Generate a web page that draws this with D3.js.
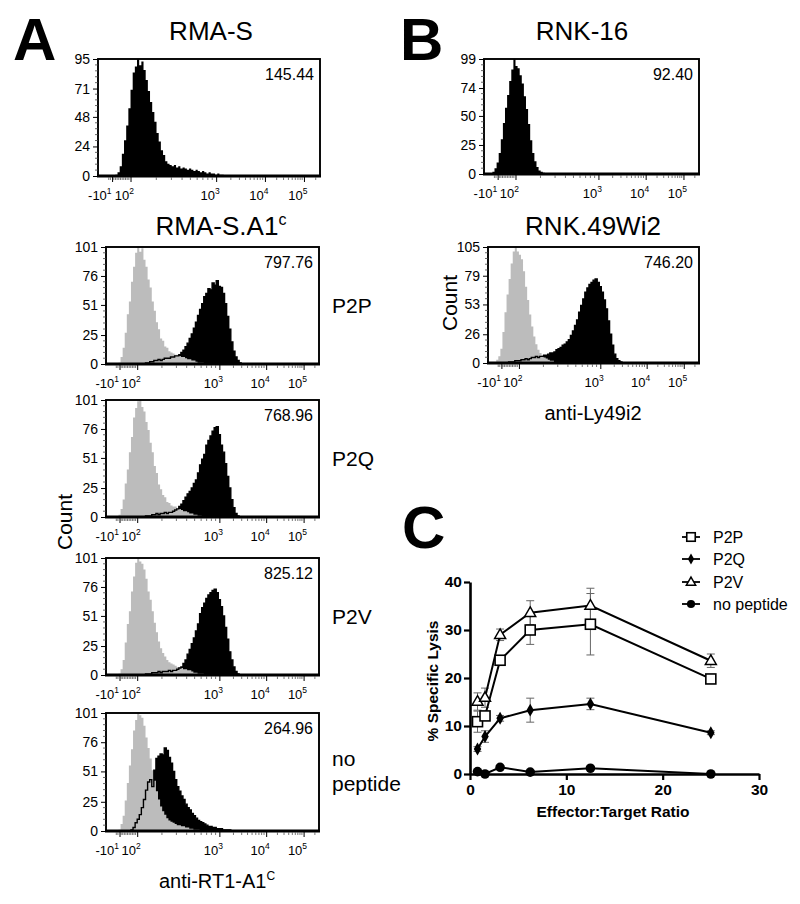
<!DOCTYPE html>
<html><head><meta charset="utf-8">
<script src="https://cdn.jsdelivr.net/npm/d3@7"></script>
<style>
body{margin:0;background:#fff}
svg{display:block}
text{font-family:"Liberation Sans",Arial,Helvetica,sans-serif}
</style></head>
<body><svg id="fig" width="800" height="904"></svg>
<script>
// ---------------- DATA ----------------
// Flow histograms: counts per 10-channel bin (1024-channel display), starting at given channel
const binWidth = 10;
const xTickChannels = [65, 150, 545, 770, 950];
const xTickLabels = [["-10","1"],["10","2"],["10","3"],["10","4"],["10","5"]];

const rmasStart = 70;
const rmasCounts = [0,1,3,8,18,29,41,55,70,84,89,95,90,93,86,78,69,60,52,44,35,28,21,17,12,10,9,8,9,7,8,6,7,6,5,6,5,4,5,4,3,4,3,2,3,2,2,1,2,1,1,0];

const grayStart = 50;
const p2pGray = [0,1,6,14,27,43,54,71,84,96,101,97,100,90,84,73,66,54,46,36,30,22,20,15,14,11,10,9,8,8,7,6,6,5,4,4,3,3,2,1,1,1,0];
const p2qGray = [0,2,7,15,29,41,56,69,86,94,100,101,95,91,82,75,64,56,44,38,28,24,19,17,13,12,10,9,9,7,7,6,5,5,4,3,3,2,2,1,1,0,0];
const p2vGray = [0,1,5,13,28,44,55,72,85,97,101,98,96,91,83,72,65,55,45,37,29,23,19,16,13,11,10,9,8,7,7,6,5,5,4,4,3,2,2,1,1,1,0];
const noPepGray = [0,1,6,13,26,41,56,70,86,95,101,99,97,90,80,71,62,52,43,34,27,21,17,14,11,9,8,7,6,5,5,4,4,3,3,2,2,1,1,1,0];

const peptideStart = 180;
const p2pBlack = [0,1,1,2,2,3,3,4,3,4,5,5,5,6,6,7,7,8,10,12,15,18,22,26,31,36,42,47,52,58,61,65,64,70,68,72,67,66,61,52,41,30,19,11,6,3,1,0];
const p2qBlack = [0,1,1,1,2,2,3,2,3,3,4,3,4,4,5,6,7,9,11,14,17,20,22,25,29,32,38,45,50,54,62,66,70,74,77,78,71,62,56,46,35,25,15,8,3,1,0];
const p2vBlack = [0,1,1,1,2,2,2,3,2,3,3,3,4,3,4,4,5,6,7,10,13,18,22,27,32,38,44,53,58,62,66,69,71,73,74,71,65,59,51,41,31,20,13,7,3,1,0];
const noPepStart = 110;
const noPepBlack = [0,1,3,7,10,14,20,27,35,42,44,38,52,62,64,66,65,71,69,63,58,51,44,38,34,30,27,23,20,18,15,13,11,9,8,7,6,5,4,4,3,3,2,2,2,1,1,1,1,0];

const rnk16Start = 30;
const rnk16Counts = [0,2,5,10,18,30,44,57,68,80,90,99,93,91,85,78,67,56,43,29,18,11,6,3,2,1,0];
const rnkWiGrayStart = 30;
const rnkWiGray = [1,3,6,13,28,46,62,76,90,101,105,101,98,94,83,69,57,44,33,24,17,12,9,7,5,4,3,2,2,1,1,0];
const rnkWiBlackStart = 90;
const rnkWiBlack = [0,1,1,1,2,2,2,3,3,4,3,4,5,5,6,5,6,6,7,7,8,9,9,10,12,13,14,16,17,19,21,25,29,34,39,46,52,58,64,68,71,73,75,76,73,69,64,57,49,38,26,16,8,4,2,1,0];

const rmasYTicks = [0,24,48,71,95];
const a1cYTicks = [0,25,51,76,101];
const rnk16YTicks = [0,25,50,74,99];
const rnkWiYTicks = [0,26,53,79,105];

// Lysis assay
const etRatio = [0.78, 1.56, 3.125, 6.25, 12.5, 25];
const p2pLysis = [10.9, 12.1, 23.7, 30.0, 31.2, 19.8];
const p2pErr   = [2.2, 0.8, 0.8, 3.0, 6.4, 0.5];
const p2qLysis = [5.2, 7.8, 11.6, 13.3, 14.6, 8.6];
const p2qErr   = [0.5, 1.2, 0.6, 2.5, 1.2, 0.4];
const p2vLysis = [15.1, 15.9, 29.0, 33.6, 35.1, 23.6];
const p2vErr   = [1.8, 2.0, 1.2, 2.5, 3.6, 1.4];
const noPepLysis = [0.5, 0.0, 1.4, 0.4, 1.2, 0.0];
const noPepErr   = [0.2, 0.2, 0.3, 0.3, 0.3, 0.2];
const lysisXTicks = [0, 10, 20, 30];
const lysisYTicks = [0, 10, 20, 30, 40];

// ---------------- DRAW ----------------
const svg = d3.select("#fig");
const GRAY = "#bcbcbc";

function pts(start, counts){ return counts.map((c,i)=>({ch:start+i*binWidth, c})); }

function drawHist(p){
  const x = d3.scaleLinear().domain([0,1024]).range([p.x0,p.x1]);
  const y = d3.scaleLinear().domain([0,p.yTicks[p.yTicks.length-1]]).range([p.y1,p.y0]);
  const g = svg.append("g");
  const area = d3.area().curve(d3.curveStepAfter).x(d=>x(d.ch)).y0(y(0)).y1(d=>y(d.c));
  const line = d3.line().curve(d3.curveStepAfter).x(d=>x(d.ch)).y(d=>y(d.c));
  const blk = pts(p.blackStart, p.black);
  g.append("path").attr("d", area(blk)).attr("fill","#000");
  if (p.gray){
    g.append("path").attr("d", area(pts(p.grayStart,p.gray))).attr("fill",GRAY);
    g.append("path").attr("d", line(blk)).attr("fill","none").attr("stroke","#000").attr("stroke-width",1.4);
  }
  // frame
  g.append("rect").attr("x",p.x0).attr("y",p.y0).attr("width",p.x1-p.x0).attr("height",p.y1-p.y0)
    .attr("fill","none").attr("stroke","#000").attr("stroke-width",1.9);
  g.append("line").attr("x1",p.x0-1).attr("x2",p.x1+1).attr("y1",p.y1).attr("y2",p.y1)
    .attr("stroke","#000").attr("stroke-width",2.8);
  // y axis
  const ya = g.append("g").attr("transform",`translate(${p.x0},0)`)
    .call(d3.axisLeft(y).tickValues(p.yTicks).tickSize(5).tickPadding(3).tickFormat(d3.format("d")));
  ya.select(".domain").remove();
  ya.selectAll(".tick line").attr("stroke","#000").attr("stroke-width",1);
  ya.selectAll(".tick text").attr("font-size",14).attr("fill","#000").attr("font-family","Liberation Sans, Arial, sans-serif");
  const yMinor = [];
  for (let i=0;i<p.yTicks.length-1;i++){
    const a=p.yTicks[i], b=p.yTicks[i+1];
    for (let k=1;k<5;k++) yMinor.push(a+(b-a)*k/5);
  }
  g.selectAll(null).data(yMinor).enter().append("line")
    .attr("x1",p.x0-3).attr("x2",p.x0).attr("y1",d=>y(d)).attr("y2",d=>y(d))
    .attr("stroke","#444").attr("stroke-width",0.8);
  // x axis
  const xa = g.append("g").attr("transform",`translate(0,${p.y1+1})`)
    .call(d3.axisBottom(x).tickValues(xTickChannels).tickSize(5).tickFormat(""));
  xa.select(".domain").remove();
  xa.selectAll(".tick line").attr("stroke","#000").attr("stroke-width",1);
  const xMinor = [];
  [-30,-20,0,10,20,30,40,50,60,70,80,90].forEach(v=>xMinor.push(xTickChannels[0]+(v+10)/110*(xTickChannels[1]-xTickChannels[0])));
  for (let dIdx=1; dIdx<4; dIdx++){
    const a=xTickChannels[dIdx], b=xTickChannels[dIdx+1];
    for (let k=2;k<10;k++) xMinor.push(a+(b-a)*Math.log10(k));
  }
  xMinor.push(xTickChannels[4]+(xTickChannels[4]-xTickChannels[3])*Math.log10(2));
  g.selectAll(null).data(xMinor).enter().append("line")
    .attr("x1",d=>x(d)).attr("x2",d=>x(d)).attr("y1",p.y1+1).attr("y2",p.y1+4)
    .attr("stroke","#555").attr("stroke-width",0.8);
  xTickChannels.forEach((c,i)=>{
    const t = g.append("text").attr("x",x(c)+(i===0?-0.5:3.5)).attr("y",p.y1+24).attr("text-anchor","end")
      .attr("font-size",13);
    t.append("tspan").text(xTickLabels[i][0]);
    t.append("tspan").attr("dy",-6).attr("font-size",8.5).text(xTickLabels[i][1]);
  });
  // MFI value
  g.append("text").attr("x",p.x1-6).attr("y",p.y0+21).attr("text-anchor","end")
    .attr("font-size",16).text(p.mfi);
  if (p.side){
    p.side.forEach((s,i)=>{
      g.append("text").attr("x",p.x1+13).attr("y",(p.y0+p.y1)/2+ (p.side.length>1 ? (i*25-6) : 7))
        .attr("font-size",21).text(s);
    });
  }
}

const aTops = [247, 400, 558, 713];
const panels = [
  {x0:98,x1:320,y0:59,y1:176,yTicks:rmasYTicks,black:rmasCounts,blackStart:rmasStart,mfi:"145.44"},
  {x0:106,x1:319,y0:aTops[0],y1:aTops[0]+117,yTicks:a1cYTicks,black:p2pBlack,blackStart:peptideStart,gray:p2pGray,grayStart:grayStart,mfi:"797.76",side:["P2P"]},
  {x0:106,x1:319,y0:aTops[1],y1:aTops[1]+117,yTicks:a1cYTicks,black:p2qBlack,blackStart:peptideStart,gray:p2qGray,grayStart:grayStart,mfi:"768.96",side:["P2Q"]},
  {x0:106,x1:319,y0:aTops[2],y1:aTops[2]+117,yTicks:a1cYTicks,black:p2vBlack,blackStart:peptideStart,gray:p2vGray,grayStart:grayStart,mfi:"825.12",side:["P2V"]},
  {x0:106,x1:319,y0:aTops[3],y1:aTops[3]+118,yTicks:a1cYTicks,black:noPepBlack,blackStart:noPepStart,gray:noPepGray,grayStart:grayStart,mfi:"264.96",side:["no","peptide"]},
  {x0:484,x1:699,y0:59,y1:174,yTicks:rnk16YTicks,black:rnk16Counts,blackStart:rnk16Start,mfi:"92.40"},
  {x0:488,x1:699,y0:247,y1:363,yTicks:rnkWiYTicks,black:rnkWiBlack,blackStart:rnkWiBlackStart,gray:rnkWiGray,grayStart:rnkWiGrayStart,mfi:"746.20"}
];
panels.forEach(drawHist);

// Panel letters & titles
function txt(x,y,s,size,opts={}){
  const t = svg.append("text").attr("x",x).attr("y",y).attr("font-size",size)
    .attr("text-anchor",opts.anchor||"start").attr("font-weight",opts.bold?"bold":"normal");
  if (opts.rot) t.attr("transform",`rotate(-90,${x},${y})`);
  t.text(s); return t;
}
txt(13,60,"A",60,{bold:true});
txt(400,60,"B",60,{bold:true});
txt(402,548,"C",60,{bold:true});
txt(211,40,"RMA-S",26,{anchor:"middle"});
txt(582,40,"RNK-16",26,{anchor:"middle"});
{
  const t = svg.append("text").attr("x",221).attr("y",235).attr("font-size",26).attr("text-anchor","middle");
  t.append("tspan").text("RMA-S.A1");
  t.append("tspan").attr("dy",-10).attr("font-size",16).text("c");
}
txt(593,235,"RNK.49Wi2",26,{anchor:"middle"});
txt(72,522,"Count",21,{anchor:"middle",rot:true});
txt(457,303,"Count",21,{anchor:"middle",rot:true});
{
  const t = svg.append("text").attr("x",217).attr("y",888).attr("font-size",20).attr("text-anchor","middle");
  t.append("tspan").text("anti-RT1-A1");
  t.append("tspan").attr("dy",-8).attr("font-size",12).text("C");
}
txt(593,420,"anti-Ly49i2",20,{anchor:"middle"});

// ---------------- Panel C ----------------
const cx = d3.scaleLinear().domain([0,30]).range([470,759]);
const cy = d3.scaleLinear().domain([0,40]).range([774,582]);
const cg = svg.append("g");
const xAx = cg.append("g").attr("transform","translate(0,774)")
  .call(d3.axisBottom(cx).tickValues(lysisXTicks).tickSize(6).tickPadding(4).tickSizeOuter(0));
const yAx = cg.append("g").attr("transform","translate(470,0)")
  .call(d3.axisLeft(cy).tickValues(lysisYTicks).tickSize(6).tickPadding(2).tickSizeOuter(0));
[xAx,yAx].forEach(a=>{
  a.select(".domain").attr("stroke-width",2.6);
  a.selectAll(".tick line").attr("stroke-width",2.2);
  a.selectAll(".tick text").attr("font-size",15.5).attr("font-weight","bold").attr("fill","#000")
    .attr("font-family","Liberation Sans, Arial, sans-serif");
});
txt(613,817,"Effector:Target Ratio",15.5,{anchor:"middle",bold:true});
txt(438,681,"% Specific Lysis",15.5,{anchor:"middle",bold:true,rot:true});

const series = [
  {name:"P2P", vals:p2pLysis, err:p2pErr, sym:"square"},
  {name:"P2Q", vals:p2qLysis, err:p2qErr, sym:"diamond"},
  {name:"P2V", vals:p2vLysis, err:p2vErr, sym:"triangle"},
  {name:"no peptide", vals:noPepLysis, err:noPepErr, sym:"circle"}
];
function marker(g, sym, x, y, s=1){
  if (sym==="square") g.append("rect").attr("x",x-5*s).attr("y",y-5*s).attr("width",10*s).attr("height",10*s)
      .attr("fill","#fff").attr("stroke","#000").attr("stroke-width",1.6);
  else if (sym==="diamond") g.append("path").attr("d",d3.symbol(d3.symbolDiamond,48*s*s)()).attr("transform",`translate(${x},${y})`).attr("fill","#000");
  else if (sym==="triangle") g.append("path").attr("d",d3.symbol(d3.symbolTriangle,52*s*s)()).attr("transform",`translate(${x},${y+0.5})`)
      .attr("fill","#fff").attr("stroke","#000").attr("stroke-width",1.5);
  else g.append("circle").attr("cx",x).attr("cy",y).attr("r",4.8*s).attr("fill","#000");
}
// error bars
series.forEach(s=>{
  s.vals.forEach((v,i)=>{
    const x = cx(etRatio[i]), y0 = cy(v - s.err[i]), y1 = cy(v + s.err[i]);
    cg.append("line").attr("x1",x).attr("x2",x).attr("y1",y0).attr("y2",y1).attr("stroke","#666").attr("stroke-width",1);
    [y0,y1].forEach(yy=>cg.append("line").attr("x1",x-4).attr("x2",x+4).attr("y1",yy).attr("y2",yy).attr("stroke","#666").attr("stroke-width",1));
  });
});
const ln = d3.line().x((d,i)=>cx(etRatio[i])).y(d=>cy(d));
series.forEach(s=>{
  cg.append("path").attr("d",ln(s.vals)).attr("fill","none").attr("stroke","#000").attr("stroke-width",2);
});
series.forEach(s=>{
  s.vals.forEach((v,i)=>marker(cg, s.sym, cx(etRatio[i]), cy(v)));
});
// legend
const legY = [537, 559, 582, 604];
series.forEach((s,i)=>{
  cg.append("line").attr("x1",682).attr("x2",700).attr("y1",legY[i]).attr("y2",legY[i]).attr("stroke","#000").attr("stroke-width",1.8);
  marker(cg, s.sym, 691, legY[i], 0.85);
  cg.append("text").attr("x",713).attr("y",legY[i]+5.5).attr("font-size",16).text(s.name);
});
</script>
</body></html>
